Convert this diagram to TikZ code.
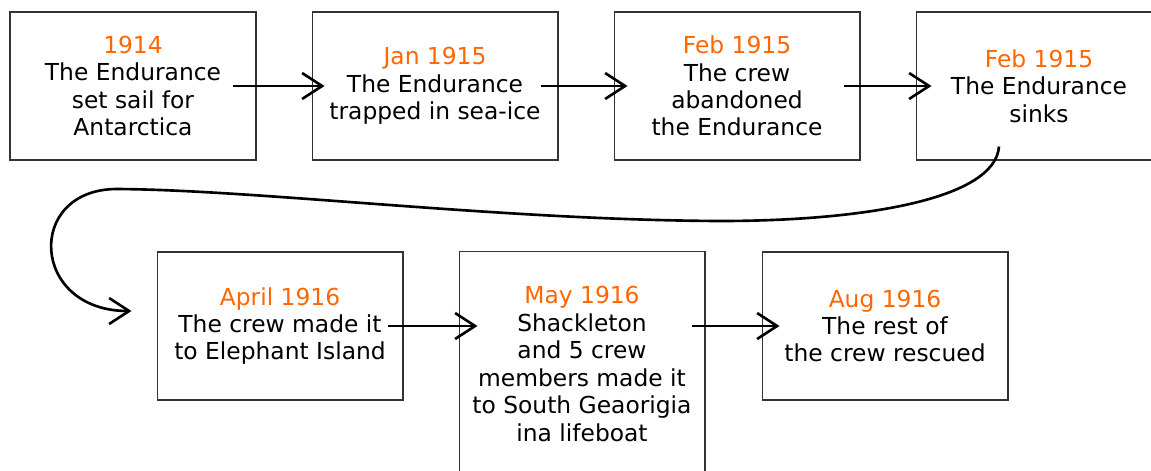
\documentclass[tikz,border=0pt]{standalone}
\usepackage{fontspec}
\setmainfont{DejaVu Sans}
\usetikzlibrary{calc,arrows.meta}
\definecolor{dateorange}{RGB}{255,102,0}
\newcommand{\evdate}[1]{{\color{dateorange}#1}}

\begin{document}
\begin{tikzpicture}[x=0.02cm,y=0.02cm,
        event/.style={draw=black!80,line width=0.6pt,minimum width=4.92cm,minimum height=2.96cm,
            inner sep=0pt,align=center,font=\fontsize{13.3}{15.6}\selectfont},
        link/.style={line width=1.5pt,-{Straight Barb[length=0.4cm,width=0.52cm]}}]
    \useasboundingbox (0,0) rectangle (1151,-470);
    \clip (0,0) rectangle (1151,-470);
    % top row
    \node[event] (b1) at (133,-86) {\evdate{1914}\\The Endurance\\set sail for\\Antarctica};
    \node[event] (b2) at (435,-86) {\evdate{Jan 1915}\\The Endurance\\trapped in sea-ice};
    \node[event] (b3) at (737,-86) {\evdate{Feb 1915}\\The crew\\abandoned\\the Endurance};
    \node[event] (b4) at (1039,-86) {\evdate{Feb 1915}\\The Endurance\\sinks};
    % bottom row
    \node[event] (b5) at (280,-326) {\evdate{April 1916}\\The crew made it\\to Elephant Island};
    \node[event,minimum height=4.5cm] (b6) at (582,-364) {\evdate{May 1916}\\Shackleton\\and 5 crew\\members made it\\to South Geaorigia\\ina lifeboat};
    \node[event] (b7) at (885,-326) {\evdate{Aug 1916}\\The rest of\\the crew rescued};
    \coordinate (c67) at (b6.east |- b7.west);
    % links
    \draw[link] ($(b1.east)+(-24,0)$) -- ($(b2.west)+(13,0)$);
    \draw[link] ($(b2.east)+(-18,0)$) -- ($(b3.west)+(14,0)$);
    \draw[link] ($(b3.east)+(-17,0)$) -- ($(b4.west)+(16,0)$);
    \draw[link] ($(b4.south)+(-40,14)$) .. controls (995,-200) and (860,-221) .. (720,-221)
        .. controls (500,-220) and (260,-190) .. (117,-189)
        .. controls (25,-189) and (30,-311) .. ($(b5.west)+(-25,15)$);
    \draw[link] ($(b5.east)+(-16,0)$) -- ($(b6.west |- b5.west)+(19,0)$);
    \draw[link] ($(c67)+(-14,0)$) -- ($(b7.west)+(18,0)$);
\end{tikzpicture}
\end{document}
